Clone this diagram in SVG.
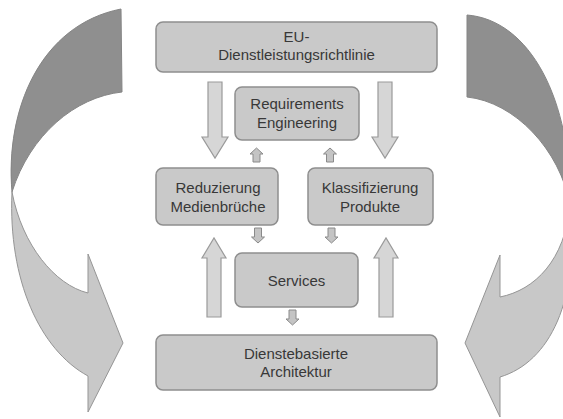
<svg xmlns="http://www.w3.org/2000/svg" width="563" height="419" viewBox="0 0 563 419">
<style>
.box{fill:#c9c9c9;stroke:#8e8e8e;stroke-width:1.5}
.t{font-family:"Liberation Sans",Arial,sans-serif;font-size:15px;fill:#383838;text-anchor:middle}
.arr{fill:#d6d6d6;stroke:#9a9a9a;stroke-width:1.2;stroke-linejoin:miter}
.sarr{fill:#c4c4c4;stroke:#8a8a8a;stroke-width:1}
.dark{fill:#8f8f8f;stroke:#858585;stroke-width:1}
.light{fill:#c8c8c8;stroke:#959595;stroke-width:1}
</style>
<rect width="563" height="419" fill="#ffffff"/>
<g id="connectors">
  <path class="light" d="M12,192 C8,280 40,350 88,376 L88,412 L123,343 L88,254 L88,293 C55,285 22,245 12,192 Z"/>
  <path class="dark" d="M121,9 L122,92 C75,97 30,135 12,192 C5,110 40,25 121,9 Z"/>
  <path class="light" d="M570,205 C565,260 535,290 500,297 L500,255 L465,343 L500,417 L500,377 C550,362 580,300 570,205 Z"/>
  <path class="dark" d="M467,15 C530,20 572,100 570,205 C560,150 515,102 467,97 Z"/>
  <path class="arr" d="M208,82 L222,82 L222,137 L228,137 L215,158 L202,137 L208,137 Z"/>
  <path class="arr" d="M378,82 L392,82 L392,137 L398,137 L385,158 L372,137 L378,137 Z"/>
  <path class="arr" d="M207,317 L221,317 L221,258 L226,258 L214,238 L202,258 L207,258 Z"/>
  <path class="arr" d="M379,317 L393,317 L393,258 L398,258 L386,238 L374,258 L379,258 Z"/>
  <path class="sarr" d="M253,162 L260,162 L260,154 L263,154 L256.5,148 L250,154 L253,154 Z"/>
  <path class="sarr" d="M326.5,162 L333.5,162 L333.5,154 L336.5,154 L330,148 L323.5,154 L326.5,154 Z"/>
  <path class="sarr" d="M254.5,228 L261.5,228 L261.5,237 L264.5,237 L258,243 L251.5,237 L254.5,237 Z"/>
  <path class="sarr" d="M328,228 L335,228 L335,237 L338,237 L331.5,243 L325,237 L328,237 Z"/>
  <path class="sarr" d="M289,310 L296,310 L296,319 L299,319 L292.5,325 L286,319 L289,319 Z"/>
</g>
<g id="eu">
  <rect class="box" x="156" y="22" width="281" height="50" rx="7"/>
  <text class="t" x="296.5" y="42">EU-</text>
  <text class="t" x="296.5" y="60">Dienstleistungsrichtlinie</text>
</g>
<g id="requirements">
  <rect class="box" x="235" y="87" width="124" height="53" rx="7"/>
  <text class="t" x="297" y="109">Requirements</text>
  <text class="t" x="297" y="128">Engineering</text>
</g>
<g id="reduzierung">
  <rect class="box" x="156" y="168" width="122" height="57" rx="7"/>
  <text class="t" x="218" y="193">Reduzierung</text>
  <text class="t" x="218" y="212">Medienbrüche</text>
</g>
<g id="klassifizierung">
  <rect class="box" x="308" y="168" width="125" height="57" rx="7"/>
  <text class="t" x="370" y="193">Klassifizierung</text>
  <text class="t" x="370" y="212">Produkte</text>
</g>
<g id="services">
  <rect class="box" x="235" y="253" width="123" height="54" rx="7"/>
  <text class="t" x="296.5" y="286">Services</text>
</g>
<g id="architektur">
  <rect class="box" x="156" y="335" width="281" height="55" rx="7"/>
  <text class="t" x="296" y="359">Dienstebasierte</text>
  <text class="t" x="296" y="377">Architektur</text>
</g>
</svg>
